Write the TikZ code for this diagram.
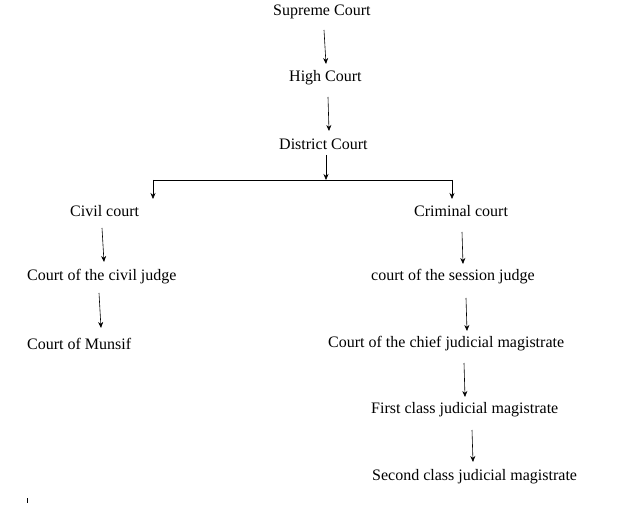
\documentclass[tikz,border=0pt]{standalone}
\usepackage{fontspec}
\setmainfont{Liberation Serif}
\usetikzlibrary{arrows.meta}
\begin{document}
\begin{tikzpicture}[x=1pt,y=-1pt,
  lbl/.style={anchor=west,inner sep=0pt,font=\fontsize{16}{19}\selectfont},
  arr/.style={-{Stealth[length=6pt,width=5pt]},line width=0.6pt}]
\useasboundingbox (0,0) rectangle (643,505);
\node[lbl] (sc) at (273,12) {Supreme Court};
\node[lbl] (hc) at (289,78) {High Court};
\node[lbl] (dc) at (279,144) {District Court};
\node[lbl] (cc) at (70,211) {Civil court};
\node[lbl] (cr) at (414,211) {Criminal court};
\node[lbl] (cj) at (27,277) {Court of the civil judge};
\node[lbl] (sj) at (371,277) {court of the session judge};
\node[lbl] (mu) at (27,344) {Court of Munsif};
\node[lbl] (cm) at (328,344) {Court of the chief judicial magistrate};
\node[lbl] (fc) at (371,410) {First class judicial magistrate};
\node[lbl] (scm) at (372,477) {Second class judicial magistrate};
\coordinate (jl) at (153,180);
\coordinate (jm) at (326,180);
\coordinate (jr) at (452,180);
\draw[arr] (324,30) -- (326,64);
\draw[arr] (328,97) -- (329,131);
\draw[arr] (326,155) -- (jm);
\draw[line width=0.6pt] (jl) -- (jr);
\draw[arr] (jl) -- (153,199);
\draw[arr] (jr) -- (452,199);
\draw[arr] (102,228) -- (104,262);
\draw[arr] (99,293) -- (101,328);
\draw[arr] (462,232) -- (463,264);
\draw[arr] (466,298) -- (467,331);
\draw[arr] (464,363) -- (465,397);
\draw[arr] (472,430) -- (473,462);
\draw[line width=0.5pt] (27,498) -- (27,503);
\end{tikzpicture}
\end{document}
